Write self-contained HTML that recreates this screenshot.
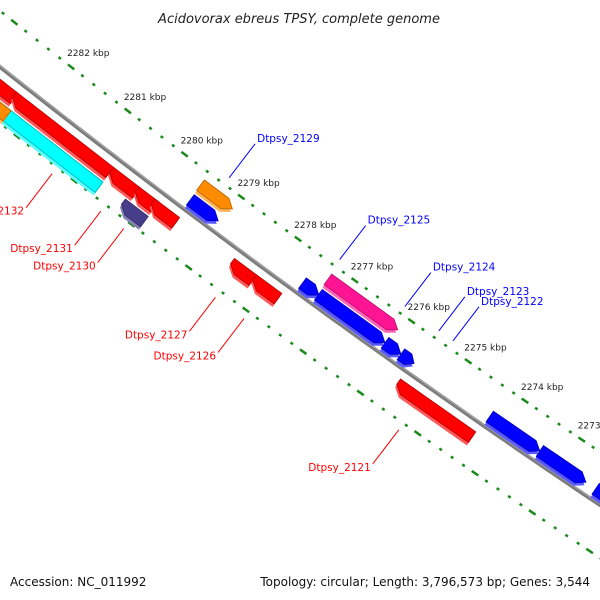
<!DOCTYPE html>
<html><head><meta charset="utf-8"><style>
html,body{margin:0;padding:0;background:#fff;}
svg{display:block;font-family:"DejaVu Sans","Liberation Sans",sans-serif;}
</style></head><body>
<svg id="map" width="600" height="600" viewBox="0 0 600 600">
<text x="299" y="23" text-anchor="middle" font-size="13" font-style="italic" fill="#222">Acidovorax ebreus TPSY, complete genome</text>
<text x="10" y="586" font-size="12" fill="#111">Accession: NC_011992</text>
<text x="590" y="586" text-anchor="end" font-size="12" fill="#111">Topology: circular; Length: 3,796,573 bp; Genes: 3,544</text>
</svg>
<script>
// tick data (kbp)
const tickKbp = [2282, 2281, 2280, 2279, 2278, 2277, 2276, 2275, 2274, 2273];
// gene data: names, start/end kbp, track, color
const geneNames = ["g0","Dtpsy_2132","g2","Dtpsy_2131","g4","Dtpsy_2127","Dtpsy_2126","Dtpsy_2121","g8","g9","Dtpsy_2130","Dtpsy_2129","g12","Dtpsy_2124","g14","Dtpsy_2123","g16","g17","g18","Dtpsy_2128","Dtpsy_2125"];
const geneStart = [2282.70,2282.38,2280.68,2280.23,2279.95,2278.56,2278.17,2275.65,2282.51,2282.51,2280.28,2279.55,2277.58,2277.30,2276.13,2275.85,2274.29,2273.41,2272.43,2279.56,2277.32];
const geneEnd   = [2282.35,2280.68,2280.21,2279.89,2279.52,2278.17,2277.73,2274.33,2280.67,2282.28,2279.88,2279.06,2277.29,2276.13,2275.85,2275.62,2273.41,2272.60,2271.95,2279.00,2276.09];
const geneTrack = [1,1,1,1,1,1,1,1,2,2,2,-1,-1,-1,-1,-1,-1,-1,-1,-2,-2];
const geneColor = ["#ff0000","#ff0000","#ff0000","#ff0000","#ff0000","#ff0000","#ff0000","#ff0000","#00ffff","#ff8c00","#483d8b","#0000ff","#0000ff","#0000ff","#0000ff","#0000ff","#0000ff","#0000ff","#0000ff","#ff8c00","#ff1493"];
// labels
const labelText = ["Dtpsy_2132","Dtpsy_2131","Dtpsy_2130","Dtpsy_2127","Dtpsy_2126","Dtpsy_2121","Dtpsy_2129","Dtpsy_2125","Dtpsy_2124","Dtpsy_2123","Dtpsy_2122"];
const labelKbp = [2281.3,2280.45,2280.05,2278.45,2277.95,2275.25,2279.3,2277.35,2276.2,2275.6,2275.35];
const labelSide = [1,1,1,1,1,1,-1,-1,-1,-1,-1];

const NS="http://www.w3.org/2000/svg";
const svg=document.getElementById('map');
function xOf(k){return 44+(2282-k)*57;}
function yG(x){return 67+0.79*x-0.0001*x*x;}
function tan(x){const dy=0.79-0.0002*x;const l=Math.hypot(1,dy);return [1/l,dy/l];}
function P(k,off){const x=xOf(k);const t=tan(x);return [x-t[1]*off,yG(x)+t[0]*off];}
function mk(tag,attrs){const e=document.createElementNS(NS,tag);for(const a in attrs)e.setAttribute(a,attrs[a]);return e;}
const gAxis=mk('g',{});


svg.appendChild(gAxis);
// backbone
let d='';for(let k=2284;k>=2270;k-=0.1){const p=P(k,0);d+=(d?'L':'M')+p[0].toFixed(1)+','+p[1].toFixed(1);}
const bb=mk('path',{d:d,stroke:'#7d7d7d','stroke-width':4,fill:'none'});


gAxis.appendChild(bb);
const bb2=mk('path',{d:d,stroke:'#aaa','stroke-width':1,fill:'none',transform:'translate(0.6,-1)'});


gAxis.appendChild(bb2);
// tick dots
for(let i=0;i<=70;i++){const k=2284-i*0.2;const major=(i%5===0);
 [-44,44].forEach(off=>{const p=P(k,off);const t=tan(xOf(k));const L=major?4:1.5;
  const ln=mk('line',{x1:p[0]-t[0]*L,y1:p[1]-t[1]*L,x2:p[0]+t[0]*L,y2:p[1]+t[1]*L,stroke:'#1a8a1a','stroke-width':2.5});
  
  
  svg.appendChild(ln);});}
// tick labels
tickKbp.forEach(k=>{const p=P(k,-44);const t=mk('text',{x:p[0]-4,y:p[1]-11,'font-size':9,fill:'#222'});t.textContent=k+' kbp';
 
 
 svg.appendChild(t);});
// genes
function shade(c,f){const n=parseInt(c.slice(1),16);let r=n>>16,g=(n>>8)&255,b=n&255;
 if(f>0){r+=(255-r)*f;g+=(255-g)*f;b+=(255-b)*f;}else{r*=1+f;g*=1+f;b*=1+f;}
 return 'rgb('+Math.round(r)+','+Math.round(g)+','+Math.round(b)+')';}
const trackOff={1:16,2:34,'-1':-11,'-2':-29};
geneNames.forEach((nm,i)=>{const s=geneStart[i],e=geneEnd[i],tr=geneTrack[i];const c=trackOff[tr];const h=6.5;
 const plus=tr<0;const head=Math.min(0.13,(s-e)*0.45);
 let pts;
 if(plus){pts=[P(s,c-h),P(e+head,c-h),P(e,c),P(e+head,c+h),P(s,c+h)];}
 else{pts=[P(s,c-h),P(e,c-h),P(e,c+h),P(s-head,c+h),P(s,c)];}
 const str=pts.map(p=>p[0].toFixed(1)+','+p[1].toFixed(1)).join(' ');
 const g=mk('g',{});
 
 
 const sh=mk('polygon',{points:str,fill:shade(geneColor[i],0.35),transform:'translate(-1.5,3)'});
 
 
 const pg=mk('polygon',{points:str,fill:geneColor[i],stroke:shade(geneColor[i],-0.3),'stroke-width':0.8});
 
 
 g.appendChild(sh);g.appendChild(pg);svg.appendChild(g);});
// labels
labelText.forEach((txt,i)=>{const side=labelSide[i];const k=labelKbp[i];
 const a=P(k,side*52);const b=[a[0]-side*26,a[1]+side*34];
 const col=side>0?'#ff0000':'#0000ff';
 const ln=mk('line',{x1:a[0],y1:a[1],x2:b[0],y2:b[1],stroke:col,'stroke-width':1});
 
 
 svg.appendChild(ln);
 const t=mk('text',{'font-size':10.5,fill:col});
 if(side>0){t.setAttribute('x',b[0]-2);t.setAttribute('y',b[1]+7);t.setAttribute('text-anchor','end');}
 else{t.setAttribute('x',b[0]+2);t.setAttribute('y',b[1]-2);}
 t.textContent=txt;
 
 
 svg.appendChild(t);});
</script>
</body></html>
